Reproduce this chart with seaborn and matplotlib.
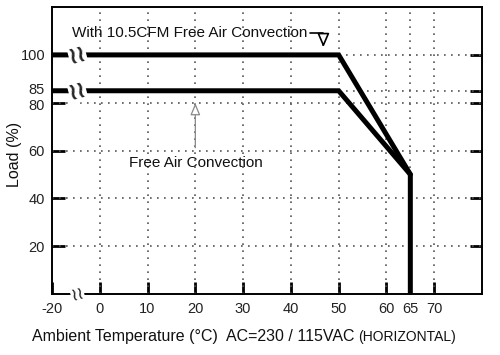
# 周囲温度に対する負荷ディレーティング曲線

import matplotlib.pyplot as plt
from matplotlib import transforms
import pandas as pd
import seaborn as sns

# データ（実際の温度値；-20 は軸を折って表示）
temp_cfm = [-20, 50, 65, 65]
load_cfm = [100, 100, 50, 0]
temp_free = [-20, 50, 65]
load_free = [85, 85, 50]

x_ticks = [-20, 0, 10, 20, 30, 40, 50, 60, 65, 70]
y_ticks = [20, 40, 60, 80, 85, 100]


def to_pos(t):
    # 折れ軸: -20..0 を 10 目盛分に圧縮
    return t / 2 if t < 0 else t


sns.set_theme(style="ticks")
plt.rcParams["font.family"] = ["Liberation Sans", "DejaVu Sans"]

df = pd.concat([
    pd.DataFrame({"temp": [to_pos(t) for t in temp_cfm], "load": load_cfm,
                  "curve": "With 10.5CFM Free Air Convection"}),
    pd.DataFrame({"temp": [to_pos(t) for t in temp_free], "load": load_free,
                  "curve": "Free Air Convection"}),
])

fig = plt.figure(figsize=(5, 3.55), dpi=100)
ax = fig.add_axes([0.104, 0.172, 0.86, 0.808])

sns.lineplot(data=df, x="temp", y="load", hue="curve", units="curve",
             palette=["black", "black"], estimator=None, sort=False,
             linewidth=3.6, legend=False, ax=ax, zorder=4,
             solid_joinstyle="miter")

ax.set_xlim(-10, 80)
ax.set_ylim(0, 120)
ax.set_xticks([to_pos(t) for t in x_ticks])
ax.set_xticklabels([str(t) for t in x_ticks])
ax.set_yticks(y_ticks)
ax.set_yticklabels([str(v) for v in y_ticks])

grid_kw = dict(color="#555555", linestyle=(0, (1, 3.2)), linewidth=1.2, zorder=1)
for t in x_ticks[1:]:
    ax.axvline(to_pos(t), **grid_kw)
for v in y_ticks:
    ax.axhline(v, **grid_kw)

for s in ax.spines.values():
    s.set_color("black")
    s.set_linewidth(1.4)

ax.tick_params(axis="both", which="major", direction="in", length=9, width=2,
               color="black", labelsize=10.5, labelcolor="#222222",
               left=True, bottom=True, right=True, top=False)
ax.tick_params(axis="x", pad=6)
ax.tick_params(axis="y", pad=5)
ax.set_xlabel("")
ax.set_ylabel("")

# 85 と 80 のラベルを少し離す
for lbl in ax.get_yticklabels():
    if lbl.get_text() == "85":
        lbl.set_transform(lbl.get_transform() + transforms.ScaledTranslation(0, 1.5 / 72, fig.dpi_scale_trans))
    elif lbl.get_text() == "80":
        lbl.set_transform(lbl.get_transform() + transforms.ScaledTranslation(0, -1.5 / 72, fig.dpi_scale_trans))

# 折れ記号
for v in [100, 85]:
    ax.text(-4.7, v, "\u2240\u2240", ha="center", va="center", fontsize=17,
            fontweight="bold", family="DejaVu Sans", rotation=15, zorder=5,
            bbox=dict(facecolor="white", edgecolor="none", pad=0.0))
ax.text(-4.7, 0, "\u2240\u2240", ha="center", va="center", fontsize=13,
        family="DejaVu Sans", rotation=15, zorder=5, clip_on=False,
        bbox=dict(facecolor="white", edgecolor="none", pad=0.0))

# 注記
ax.annotate("", xy=(46.8, 102), xytext=(43.5, 109),
            arrowprops=dict(arrowstyle="-|>,head_length=0.7,head_width=0.3",
                            fc="white", ec="black", lw=1.2,
                            connectionstyle="angle,angleA=0,angleB=90,rad=0"))
ax.text(-5.8, 109, "With 10.5CFM Free Air Convection", ha="left", va="center",
        fontsize=11, color="#111111")
ax.annotate("", xy=(20, 81), xytext=(20, 60),
            arrowprops=dict(arrowstyle="-|>,head_length=0.6,head_width=0.25",
                            fc="white", ec="#888888", lw=0.9))
ax.text(6.2, 54.6, "Free Air Convection", ha="left", va="center",
        fontsize=11, color="#111111")

fig.text(0.028, 0.566, "Load (%)", rotation=90, ha="center", va="center",
         fontsize=11.5, color="#111111")
fig.text(0.064, 0.051, "Ambient Temperature (\u00b0C)  AC=230 / 115VAC",
         ha="left", va="center", fontsize=11.5, color="#111111")
fig.text(0.716, 0.051, "(HORIZONTAL)", ha="left", va="center",
         fontsize=10, color="#111111")

fig.savefig("out.png", dpi=100)
